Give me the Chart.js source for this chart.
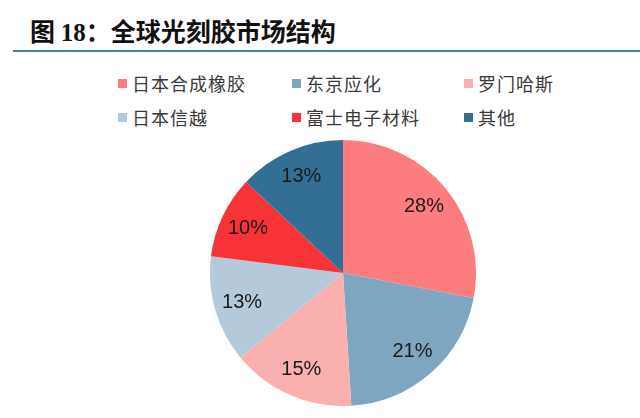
<!DOCTYPE html>
<html>
<head>
<meta charset="utf-8">
<script src="https://cdn.jsdelivr.net/npm/chart.js@4"></script>
<style>
  body { margin: 0; background: #fff; width: 640px; height: 418px; overflow: hidden; position: relative; }
  #title { position: absolute; left: 30px; top: 12px; font: bold 25px "Noto Sans CJK SC", sans-serif; color: #111; white-space: nowrap; }
  #title .num { font-family: "Liberation Serif", serif; }
  #rule { position: absolute; left: 13px; top: 50px; width: 627px; height: 2px; background: #4a7eab; }
  #legend { position: absolute; left: 118px; top: 66px; display: grid; grid-template-columns: 174px 172px 170px; grid-auto-rows: 34px; }
  .item { display: flex; align-items: center; font: 18px "Noto Sans CJK SC", sans-serif; letter-spacing: 1px; color: #3a3a3a; white-space: nowrap; }
  .box { width: 9px; height: 9px; margin-right: 5px; flex: none; }
  #pieWrap { position: absolute; left: 210px; top: 140px; width: 266px; height: 266px; }
</style>
</head>
<body>
<div id="title">图 <span class="num">18</span>：全球光刻胶市场结构</div>
<div id="rule"></div>
<div id="legend"></div>
<div id="pieWrap"><canvas id="pie"></canvas></div>
<script>
// market share by maker, clockwise from 12 o'clock
var makers = ['日本合成橡胶', '东京应化', '罗门哈斯', '日本信越', '富士电子材料', '其他'];
var shares = [28, 21, 15, 13, 10, 13];
var sliceColors = ['#fd7c80', '#7fa6c0', '#fbb0b0', '#b4cadb', '#f73338', '#336f94'];

// legend order is the same as the slices
var legend = document.getElementById('legend');
makers.forEach(function (name, i) {
    var item = document.createElement('div');
    item.className = 'item';
    var box = document.createElement('span');
    box.className = 'box';
    box.style.background = sliceColors[i];
    item.appendChild(box);
    item.appendChild(document.createTextNode(name));
    legend.appendChild(item);
});

// draw the percent labels inside each slice
var sliceLabels = {
    id: 'sliceLabels',
    afterDatasetsDraw: function (chart) {
        var ctx = chart.ctx;
        var meta = chart.getDatasetMeta(0);
        ctx.save();
        ctx.font = '20px "Liberation Sans", Arial, sans-serif';
        ctx.fillStyle = '#1a1a1a';
        ctx.textAlign = 'center';
        ctx.textBaseline = 'middle';
        meta.data.forEach(function (arc, i) {
            var mid = (arc.startAngle + arc.endAngle) / 2;
            var r = arc.outerRadius * 0.79;
            ctx.fillText(shares[i] + '%', arc.x + Math.cos(mid) * r, arc.y + Math.sin(mid) * r);
        });
        ctx.restore();
    }
};

new Chart(document.getElementById('pie').getContext('2d'), {
    type: 'pie',
    data: {
        labels: makers,
        datasets: [{
            data: shares,
            backgroundColor: sliceColors,
            borderWidth: 0
        }]
    },
    options: {
        responsive: true,
        maintainAspectRatio: false,
        animation: false,
        layout: { padding: 0 },
        plugins: {
            legend: { display: false },
            tooltip: { enabled: false }
        }
    },
    plugins: [sliceLabels]
});
</script>
</body>
</html>
